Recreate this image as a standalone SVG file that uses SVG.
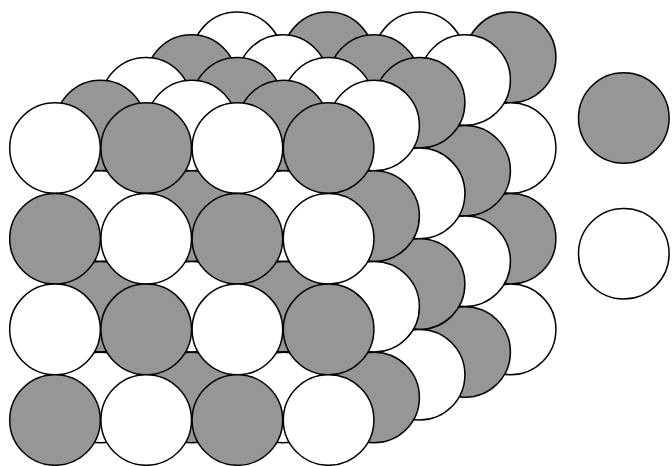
<svg xmlns="http://www.w3.org/2000/svg" width="672" height="466" viewBox="0 0 672 466">
<defs><style>circle{stroke:#000;stroke-width:1.5}.g{fill:#969696}.w{fill:#fff}</style></defs>
<rect width="672" height="466" fill="#fff"/>
<g id="layer4">
<circle class="w" cx="237" cy="57.400" r="45.300"/><circle class="g" cx="328.200" cy="57.400" r="45.300"/><circle class="w" cx="419.400" cy="57.400" r="45.300"/><circle class="g" cx="510.600" cy="57.400" r="45.300"/>
<circle class="g" cx="237" cy="148" r="45.300"/><circle class="w" cx="328.200" cy="148" r="45.300"/><circle class="g" cx="419.400" cy="148" r="45.300"/><circle class="w" cx="510.600" cy="148" r="45.300"/>
<circle class="w" cx="237" cy="238.700" r="45.300"/><circle class="g" cx="328.200" cy="238.700" r="45.300"/><circle class="w" cx="419.400" cy="238.700" r="45.300"/><circle class="g" cx="510.600" cy="238.700" r="45.300"/>
<circle class="g" cx="237" cy="329.400" r="45.300"/><circle class="w" cx="328.200" cy="329.400" r="45.300"/><circle class="g" cx="419.400" cy="329.400" r="45.300"/><circle class="w" cx="510.600" cy="329.400" r="45.300"/>
</g>
<g id="layer3">
<circle class="g" cx="191.500" cy="80" r="45.300"/><circle class="w" cx="282.700" cy="80" r="45.300"/><circle class="g" cx="373.900" cy="80" r="45.300"/><circle class="w" cx="465.100" cy="80" r="45.300"/>
<circle class="w" cx="191.500" cy="170.700" r="45.300"/><circle class="g" cx="282.700" cy="170.700" r="45.300"/><circle class="w" cx="373.900" cy="170.700" r="45.300"/><circle class="g" cx="465.100" cy="170.700" r="45.300"/>
<circle class="g" cx="191.500" cy="261.300" r="45.300"/><circle class="w" cx="282.700" cy="261.300" r="45.300"/><circle class="g" cx="373.900" cy="261.300" r="45.300"/><circle class="w" cx="465.100" cy="261.300" r="45.300"/>
<circle class="w" cx="191.500" cy="352" r="45.300"/><circle class="g" cx="282.700" cy="352" r="45.300"/><circle class="w" cx="373.900" cy="352" r="45.300"/><circle class="g" cx="465.100" cy="352" r="45.300"/>
</g>
<g id="layer2">
<circle class="w" cx="146" cy="102.800" r="45.300"/><circle class="g" cx="237.200" cy="102.800" r="45.300"/><circle class="w" cx="328.400" cy="102.800" r="45.300"/><circle class="g" cx="419.600" cy="102.800" r="45.300"/>
<circle class="g" cx="146" cy="193.400" r="45.300"/><circle class="w" cx="237.200" cy="193.400" r="45.300"/><circle class="g" cx="328.400" cy="193.400" r="45.300"/><circle class="w" cx="419.600" cy="193.400" r="45.300"/>
<circle class="w" cx="146" cy="284.100" r="45.300"/><circle class="g" cx="237.200" cy="284.100" r="45.300"/><circle class="w" cx="328.400" cy="284.100" r="45.300"/><circle class="g" cx="419.600" cy="284.100" r="45.300"/>
<circle class="g" cx="146" cy="374.700" r="45.300"/><circle class="w" cx="237.200" cy="374.700" r="45.300"/><circle class="g" cx="328.400" cy="374.700" r="45.300"/><circle class="w" cx="419.600" cy="374.700" r="45.300"/>
</g>
<g id="layer1">
<circle class="g" cx="100.500" cy="125.500" r="45.300"/><circle class="w" cx="191.700" cy="125.500" r="45.300"/><circle class="g" cx="282.900" cy="125.500" r="45.300"/><circle class="w" cx="374.100" cy="125.500" r="45.300"/>
<circle class="w" cx="100.500" cy="216.100" r="45.300"/><circle class="g" cx="191.700" cy="216.100" r="45.300"/><circle class="w" cx="282.900" cy="216.100" r="45.300"/><circle class="g" cx="374.100" cy="216.100" r="45.300"/>
<circle class="g" cx="100.500" cy="306.800" r="45.300"/><circle class="w" cx="191.700" cy="306.800" r="45.300"/><circle class="g" cx="282.900" cy="306.800" r="45.300"/><circle class="w" cx="374.100" cy="306.800" r="45.300"/>
<circle class="w" cx="100.500" cy="397.500" r="45.300"/><circle class="g" cx="191.700" cy="397.500" r="45.300"/><circle class="w" cx="282.900" cy="397.500" r="45.300"/><circle class="g" cx="374.100" cy="397.500" r="45.300"/>
</g>
<g id="layer0">
<circle class="w" cx="55" cy="148" r="45.300"/><circle class="g" cx="146.200" cy="148" r="45.300"/><circle class="w" cx="237.400" cy="148" r="45.300"/><circle class="g" cx="328.600" cy="148" r="45.300"/>
<circle class="g" cx="55" cy="238.700" r="45.300"/><circle class="w" cx="146.200" cy="238.700" r="45.300"/><circle class="g" cx="237.400" cy="238.700" r="45.300"/><circle class="w" cx="328.600" cy="238.700" r="45.300"/>
<circle class="w" cx="55" cy="329.400" r="45.300"/><circle class="g" cx="146.200" cy="329.400" r="45.300"/><circle class="w" cx="237.400" cy="329.400" r="45.300"/><circle class="g" cx="328.600" cy="329.400" r="45.300"/>
<circle class="g" cx="55" cy="420" r="45.300"/><circle class="w" cx="146.200" cy="420" r="45.300"/><circle class="g" cx="237.400" cy="420" r="45.300"/><circle class="w" cx="328.600" cy="420" r="45.300"/>
</g>
<g id="legend-gray"><circle class="g" cx="623.800" cy="118" r="45.300"/></g>
<g id="legend-white"><circle class="w" cx="623.800" cy="253.700" r="45.300"/></g>
</svg>
